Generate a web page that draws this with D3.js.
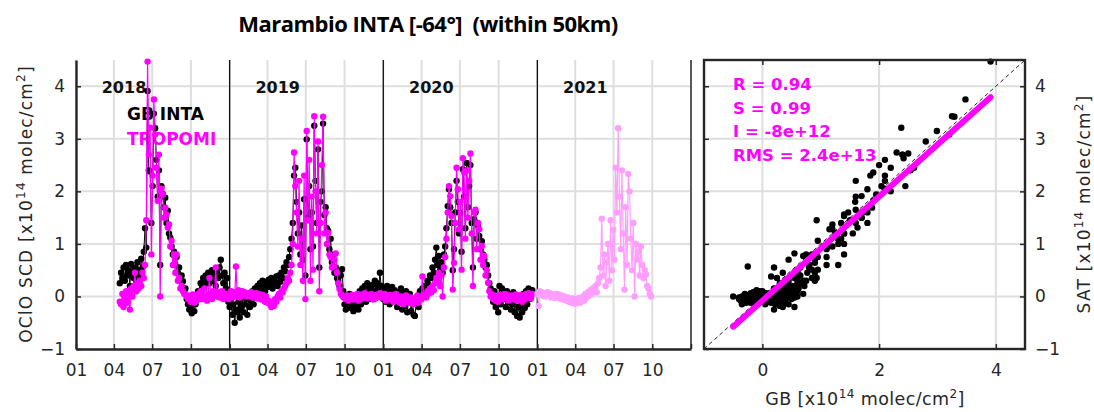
<!DOCTYPE html>
<html><head><meta charset="utf-8">
<script src="https://cdn.jsdelivr.net/npm/d3@7"></script>
<style>
body{margin:0;background:#fff;}
svg{display:block;font-family:"DejaVu Sans",sans-serif;}
</style>
</head><body>
<svg id="chart" width="1094" height="412"></svg>
<script>
// ---------------- DATA ----------------
const titleText = "Marambio INTA [-64°]  (within 50km)";
const yearLabels = ["2018", "2019", "2020", "2021"];
const yTickValues = [-1, 0, 1, 2, 3, 4];
const scatterXTickValues = [0, 2, 4];
const legendNames = ["GB INTA", "TROPOMI"];
const statsLines = ["R = 0.94", "S = 0.99", "I = -8e+12", "RMS = 2.4e+13"];
const fitSlope = 0.99;
const fitIntercept = -0.08; // -8e12 in units of 1e14
const stepDays = 3;

const start2018 = "2018-04-15";
const gb2018 = [0.25,0.45,0.35,0.55,0.30,0.60,0.40,0.50,0.20,0.62,
0.45,0.35,0.55,0.30,0.65,0.50,0.40,0.72,0.55,0.85,
1.30,0.93,3.91,2.40,2.38,1.40,2.10,3.48,3.20,2.60,
1.90,2.40,0.60,2.10,1.95,1.70,1.88,1.40,1.63,1.20,
1.12,0.95,0.80,0.85,0.60,0.75,0.45,0.55,0.30,0.40,
0.29,0.10,0.15,-0.05,-0.15,-0.25,-0.20,-0.32,-0.10,-0.28,
-0.15,-0.05,0.10,0.05,0.25,0.15,0.35,0.20,0.40,0.30,
0.45,0.25,0.38,0.50,0.30,0.42,0.20,0.48,0.35,0.55,
0.70,0.40,0.25,0.45,0.15,0.35,-0.10];
const tr2018 = [-0.10,-0.15,0.05,-0.20,-0.05,0.10,-0.12,0.05,-0.25,0.15,
0.00,0.20,0.45,0.10,0.25,0.15,0.30,0.20,0.45,0.35,
0.60,1.45,4.47,2.70,3.21,0.80,2.30,3.75,3.08,2.45,
1.82,2.70,0.00,2.05,1.94,1.50,1.69,1.56,1.31,1.37,
0.95,1.06,0.60,0.80,0.45,0.80,0.30,0.35,0.15,0.20,
0.10,0.05,0.04,0.00,-0.05,0.02,-0.10,-0.05,0.04,-0.12,
0.00,-0.08,0.05,-0.02,0.10,-0.05,0.02,0.15,0.00,-0.08,
0.05,0.35,0.02,-0.05,0.10,0.05,0.55,0.00,0.08,-0.02,
0.05,0.10,-0.05,0.02,0.00,0.05,-0.05];

const start2019 = "2019-01-01";
const gb2019 = [-0.20,-0.05,-0.35,-0.15,-0.50,-0.25,-0.30,-0.10,-0.40,-0.20,
0.00,-0.30,-0.15,-0.05,-0.35,0.05,-0.20,-0.10,0.10,-0.15,
0.15,0.05,0.20,0.10,0.25,0.15,0.30,0.20,0.10,0.28,
0.18,0.32,0.22,0.35,0.15,0.30,0.25,0.38,0.20,0.40,
0.28,0.45,0.35,0.55,0.48,0.65,0.60,0.75,0.90,1.10,
1.40,2.30,2.45,1.80,1.20,1.60,0.80,1.35,0.70,1.85,
0.40,2.99,1.50,2.10,0.90,1.60,0.95,3.25,2.20,1.40,
2.80,0.55,1.80,2.00,3.29,1.55,1.70,1.30,1.25,0.90,
1.10,0.65,0.80,0.45,0.55,0.35,0.30,0.20,0.40,0.52,
0.10,-0.15,-0.25,-0.10,-0.20,0.05,-0.22,-0.12,-0.28,-0.05,
-0.18,0.02,-0.25,0.10,-0.15,0.15,0.05,0.20,-0.10,0.25,
0.08,0.18,-0.05,0.22,0.10,0.30,0.05,0.25,0.15,0.45,
0.20];
const tr2019 = [0.05,0.10,-0.02,0.08,0.00,0.57,0.05,0.12,-0.02,0.06,
0.10,0.02,0.08,0.04,0.00,0.06,0.02,0.08,-0.02,0.05,
0.00,0.06,-0.04,0.05,0.02,-0.06,0.03,-0.05,-0.10,0.00,
-0.12,-0.08,-0.15,-0.20,-0.12,-0.18,-0.05,-0.10,0.00,0.05,
-0.02,0.10,0.08,0.15,0.20,0.25,0.35,0.30,0.45,0.60,
1.00,2.74,2.10,1.60,0.95,2.20,0.60,1.10,0.30,2.30,
-0.05,3.15,1.45,2.60,0.30,1.90,0.51,3.43,2.00,1.20,
2.95,0.10,1.40,2.50,3.42,1.20,1.60,1.00,1.21,0.80,
0.75,0.55,0.58,0.70,0.82,0.45,0.25,0.14,0.05,0.02,
-0.02,0.00,-0.05,0.02,-0.08,0.00,-0.04,0.03,-0.06,0.00,
-0.03,0.05,-0.08,0.00,-0.05,0.04,-0.02,0.06,0.00,-0.04,
0.03,-0.02,0.05,0.00,-0.06,0.02,-0.03,0.04,0.00,0.06,
-0.02];

const start2020 = "2020-01-01";
const gb2020 = [-0.05,0.15,-0.10,0.20,0.05,-0.15,0.10,0.18,-0.05,0.12,
0.00,-0.20,0.08,-0.12,0.15,-0.25,0.05,-0.18,0.10,-0.30,
-0.08,0.05,-0.28,-0.10,-0.35,-0.37,-0.15,0.00,-0.20,0.10,
-0.05,0.15,0.05,0.20,0.10,0.30,0.22,0.40,0.35,0.55,
0.45,0.70,0.93,0.60,0.77,0.50,0.65,0.45,0.80,0.95,
1.30,1.72,2.04,1.70,1.40,0.50,0.90,1.60,2.20,1.80,
1.20,1.59,0.85,2.42,1.90,1.30,2.54,1.70,2.10,2.50,
1.40,0.55,1.47,1.60,1.10,1.35,1.15,0.90,1.05,0.80,
0.70,0.55,0.60,0.40,0.25,0.15,0.05,-0.10,0.10,-0.20,
0.00,-0.30,0.20,-0.15,0.15,-0.05,0.05,-0.20,0.10,-0.10,
0.05,-0.25,-0.15,0.08,-0.30,-0.05,-0.37,-0.20,-0.40,-0.10,
-0.30,0.05,-0.22,0.10,-0.15,0.15,-0.05,0.08,0.12];
const tr2020 = [-0.02,0.05,-0.08,0.00,-0.05,0.03,-0.06,0.02,-0.10,-0.03,
0.05,-0.08,-0.02,-0.12,0.00,-0.06,-0.15,-0.04,0.02,-0.10,
-0.05,-0.12,-0.02,-0.08,-0.15,-0.05,-0.10,0.02,-0.12,0.00,
-0.06,0.38,0.02,0.05,-0.02,0.10,0.05,0.15,0.08,0.20,
0.12,0.25,0.35,0.30,0.45,0.20,0.40,0.00,0.55,0.75,
1.10,1.60,2.10,1.91,1.53,0.13,0.64,1.40,2.45,2.04,
1.28,1.80,0.51,2.63,2.36,1.10,2.40,1.50,2.20,2.72,
1.20,0.20,1.60,1.65,0.90,1.40,1.28,0.70,0.96,0.60,
0.77,0.40,0.50,0.26,0.10,0.00,0.04,-0.05,0.02,-0.08,
0.00,-0.10,0.03,-0.06,0.02,-0.04,0.05,-0.02,0.04,-0.08,
0.00,-0.05,0.02,-0.06,-0.03,0.04,-0.08,0.00,-0.05,0.03,
-0.10,0.00,-0.06,0.05,-0.02,0.06,0.00,-0.04,0.05];

const start2021 = "2021-01-01";
const tr2021 = [0.05,-0.18,0.10,0.08,0.02,0.06,0.00,0.05,0.08,0.02,
0.06,-0.02,0.04,0.03,-0.03,0.05,0.00,0.04,-0.04,0.02,
-0.06,0.00,-0.03,-0.08,-0.02,-0.10,-0.05,-0.12,-0.04,-0.08,
-0.14,-0.06,-0.10,-0.03,-0.12,-0.05,0.00,-0.08,0.05,-0.02,
0.08,0.02,0.12,0.05,0.15,0.10,0.20,0.08,0.25,0.35,
0.55,1.48,0.40,0.80,0.20,0.65,1.00,0.30,1.45,0.50,
1.27,0.70,2.45,1.60,3.20,1.90,0.90,2.40,1.20,0.13,
1.70,0.60,2.33,2.00,1.10,0.50,1.40,0.00,1.00,0.70,
0.85,0.40,0.95,0.60,0.35,0.50,0.42,0.20,0.15,0.05,
0.00];

// ---------------- STYLE / LAYOUT ----------------
const C_AXIS = "#262626", C_GRID = "#dedede", C_GB = "#000000", C_TR = "#ff00ff", C_TR21 = "#ff9eff";
const FONT = "'DejaVu Sans', sans-serif";
const svg = d3.select("#chart");
const parse = d3.utcParse("%Y-%m-%d");
const fmtInt = d3.format("d");

const xT = d3.scaleUtc().domain([new Date(Date.UTC(2018,0,1)), new Date(Date.UTC(2022,0,1))]).range([76, 691]);
const yL = d3.scaleLinear().domain([-1, 4.5]).range([349, 60]);
const xS = d3.scaleLinear().domain([-1, 4.5]).range([704, 1025]);
const yS = d3.scaleLinear().domain([-1, 4.5]).range([349, 60]);

function makeSeries(start, vals) {
  const s = parse(start);
  return vals.map((v, i) => ({date: d3.utcDay.offset(s, i * stepDays), v}));
}
const gbSeries = [makeSeries(start2018, gb2018), makeSeries(start2019, gb2019), makeSeries(start2020, gb2020)];
const trSeries = [makeSeries(start2018, tr2018), makeSeries(start2019, tr2019), makeSeries(start2020, tr2020)];
const tr21Series = makeSeries(start2021, tr2021);

// ---------------- TITLE ----------------
svg.append("text").attr("x", 428).attr("y", 32).attr("text-anchor", "middle")
  .style("white-space", "pre")
  .attr("font-family", "'Open Sans', 'Noto Sans', sans-serif").attr("font-weight", "bold")
  .attr("font-size", 22).attr("letter-spacing", -0.5).attr("fill", "#000")
  .text(titleText);

// ---------------- LEFT PANEL ----------------
const gL = svg.append("g");
const quarterTicks = d3.utcMonth.every(3).range(xT.domain()[0], d3.utcDay.offset(xT.domain()[1], 1));
const yearStarts = d3.utcYear.range(xT.domain()[0], d3.utcDay.offset(xT.domain()[1], 1));

// grid
gL.append("g").selectAll("line").data(quarterTicks).join("line")
  .attr("x1", d => xT(d)).attr("x2", d => xT(d)).attr("y1", yL.range()[0]).attr("y2", yL.range()[1])
  .attr("stroke", C_GRID).attr("stroke-width", 2);
gL.append("g").selectAll("line").data(yTickValues).join("line")
  .attr("x1", xT.range()[0]).attr("x2", xT.range()[1]).attr("y1", d => yL(d)).attr("y2", d => yL(d))
  .attr("stroke", C_GRID).attr("stroke-width", 2);
// year separators
gL.append("g").selectAll("line").data(yearStarts.slice(1)).join("line")
  .attr("x1", d => xT(d)).attr("x2", d => xT(d)).attr("y1", yL.range()[0]).attr("y2", yL.range()[1])
  .attr("stroke", "#111").attr("stroke-width", 1.3);

// legend texts (beneath data)
legendNames.forEach((n, i) => {
  gL.append("text").attr("x", 127).attr("y", 120 + i * 25)
    .attr("font-family", FONT).attr("font-weight", "bold").attr("font-size", 17)
    .attr("fill", i === 0 ? C_GB : C_TR).text(n);
});
// year labels
gL.append("g").selectAll("text").data(yearLabels).join("text")
  .attr("x", (d, i) => xT(yearStarts[i]) + 48).attr("y", 93).attr("text-anchor", "middle")
  .attr("font-family", FONT).attr("font-weight", "bold").attr("font-size", 16).attr("fill", "#111")
  .text(d => d);

const line = d3.line().x(d => xT(d.date)).y(d => yL(d.v));
function drawSeries(data, color, lw) {
  gL.append("path").datum(data).attr("d", line).attr("fill", "none").attr("stroke", color).attr("stroke-width", lw);
  gL.append("g").selectAll("circle").data(data).join("circle")
    .attr("cx", d => xT(d.date)).attr("cy", d => yL(d.v)).attr("r", 3.2).attr("fill", color);
}
gbSeries.forEach(s => drawSeries(s, C_GB, 1));
trSeries.forEach(s => drawSeries(s, C_TR, 1.2));
drawSeries(tr21Series, C_TR21, 1.2);

// axes
function styleAxis(g, showDomain) {
  g.attr("font-family", FONT).attr("font-size", 17);
  g.selectAll(".tick line").attr("stroke", C_AXIS).attr("stroke-width", 1.5);
  g.selectAll(".tick text").attr("fill", C_AXIS);
  if (showDomain) g.select(".domain").attr("stroke", C_AXIS).attr("stroke-width", 2.4);
  else g.select(".domain").remove();
}
const fmtMonth = d3.utcFormat("%m");
gL.append("g").attr("transform", `translate(0,${yL.range()[0]})`)
  .call(d3.axisBottom(xT).tickValues(quarterTicks)
    .tickFormat(d => d.getUTCFullYear() >= 2022 ? "" : fmtMonth(d))
    .tickSize(-5).tickSizeOuter(0).tickPadding(15))
  .call(g => styleAxis(g, true));
gL.append("g").attr("transform", `translate(${xT.range()[0]},0)`)
  .call(d3.axisLeft(yL).tickValues(yTickValues).tickFormat(fmtInt).tickSize(-5).tickSizeOuter(0).tickPadding(11))
  .call(g => styleAxis(g, true));

// ---------------- RIGHT PANEL ----------------
const gR = svg.append("g");
gR.append("g").selectAll("line").data(scatterXTickValues).join("line")
  .attr("x1", d => xS(d)).attr("x2", d => xS(d)).attr("y1", yS.range()[0]).attr("y2", yS.range()[1])
  .attr("stroke", C_GRID).attr("stroke-width", 2);
gR.append("g").selectAll("line").data(yTickValues).join("line")
  .attr("x1", xS.range()[0]).attr("x2", xS.range()[1]).attr("y1", d => yS(d)).attr("y2", d => yS(d))
  .attr("stroke", C_GRID).attr("stroke-width", 2);

// 1:1 line
const dom = xS.domain();
gR.append("line").attr("x1", xS(dom[0])).attr("y1", yS(dom[0])).attr("x2", xS(dom[1])).attr("y2", yS(dom[1]))
  .attr("stroke", "#222").attr("stroke-width", 1).attr("stroke-dasharray", "4,3");

// paired points (same dates)
const pairs = [];
gbSeries.forEach((s, k) => {
  const t = trSeries[k];
  for (let i = 0; i < Math.min(s.length, t.length); i++) pairs.push({gb: s[i].v, sat: t[i].v});
});
gR.append("g").selectAll("circle").data(pairs).join("circle")
  .attr("cx", d => xS(d.gb)).attr("cy", d => yS(d.sat)).attr("r", 3.2).attr("fill", "#000");

// regression line over GB extent
const gbExt = d3.extent(pairs, d => d.gb);
gR.append("line")
  .attr("x1", xS(gbExt[0])).attr("y1", yS(fitSlope * gbExt[0] + fitIntercept))
  .attr("x2", xS(gbExt[1])).attr("y2", yS(fitSlope * gbExt[1] + fitIntercept))
  .attr("stroke", C_TR).attr("stroke-width", 6).attr("stroke-linecap", "round");

// stats
gR.append("g").selectAll("text").data(statsLines).join("text")
  .attr("x", 733).attr("y", (d, i) => 90 + i * 23.7)
  .attr("font-family", FONT).attr("font-weight", "bold").attr("font-size", 16.5).attr("fill", C_TR)
  .text(d => d);

// box + axes
gR.append("rect").attr("x", xS.range()[0]).attr("y", yS.range()[1])
  .attr("width", xS.range()[1] - xS.range()[0]).attr("height", yS.range()[0] - yS.range()[1])
  .attr("fill", "none").attr("stroke", C_AXIS).attr("stroke-width", 2.4);
gR.append("g").attr("transform", `translate(0,${yS.range()[0]})`)
  .call(d3.axisBottom(xS).tickValues(scatterXTickValues).tickFormat(fmtInt).tickSize(-5).tickSizeOuter(0).tickPadding(15))
  .call(g => styleAxis(g, false));
gR.append("g").attr("transform", `translate(0,${yS.range()[1]})`)
  .call(d3.axisTop(xS).tickValues(scatterXTickValues).tickSize(-5).tickSizeOuter(0).tickFormat(""))
  .call(g => styleAxis(g, false));
gR.append("g").attr("transform", `translate(${xS.range()[1]},0)`)
  .call(d3.axisRight(yS).tickValues(yTickValues).tickFormat(fmtInt).tickSize(-5).tickSizeOuter(0).tickPadding(10))
  .call(g => styleAxis(g, false));
gR.append("g").attr("transform", `translate(${xS.range()[0]},0)`)
  .call(d3.axisLeft(yS).tickValues(yTickValues).tickSize(-5).tickSizeOuter(0).tickFormat(""))
  .call(g => styleAxis(g, false));

// ---------------- AXIS LABELS ----------------
function richLabel(sel, prefix) {
  const parts = [[prefix + " [x10", false], ["14", true], [" molec/cm", false], ["2", true], ["]", false]];
  let raised = false;
  parts.forEach(([t, sup]) => {
    const ts = sel.append("tspan").text(t);
    if (sup) { ts.attr("font-size", 12).attr("dy", -7); raised = true; }
    else if (raised) { ts.attr("dy", 7); raised = false; }
  });
}
const lab1 = svg.append("text").attr("transform", "translate(32,204) rotate(-90)").attr("text-anchor", "middle")
  .attr("font-family", FONT).attr("font-size", 17).attr("letter-spacing", 1.2).attr("fill", C_AXIS);
richLabel(lab1, "OClO SCD");
const lab2 = svg.append("text").attr("transform", "translate(1090,204) rotate(-90)").attr("text-anchor", "middle")
  .attr("font-family", FONT).attr("font-size", 17).attr("letter-spacing", 1.2).attr("fill", C_AXIS);
richLabel(lab2, "SAT");
const lab3 = svg.append("text").attr("x", 865).attr("y", 405).attr("text-anchor", "middle")
  .attr("font-family", FONT).attr("font-size", 17.5).attr("letter-spacing", 0.4).attr("fill", C_AXIS);
richLabel(lab3, "GB");
</script>
</body></html>
